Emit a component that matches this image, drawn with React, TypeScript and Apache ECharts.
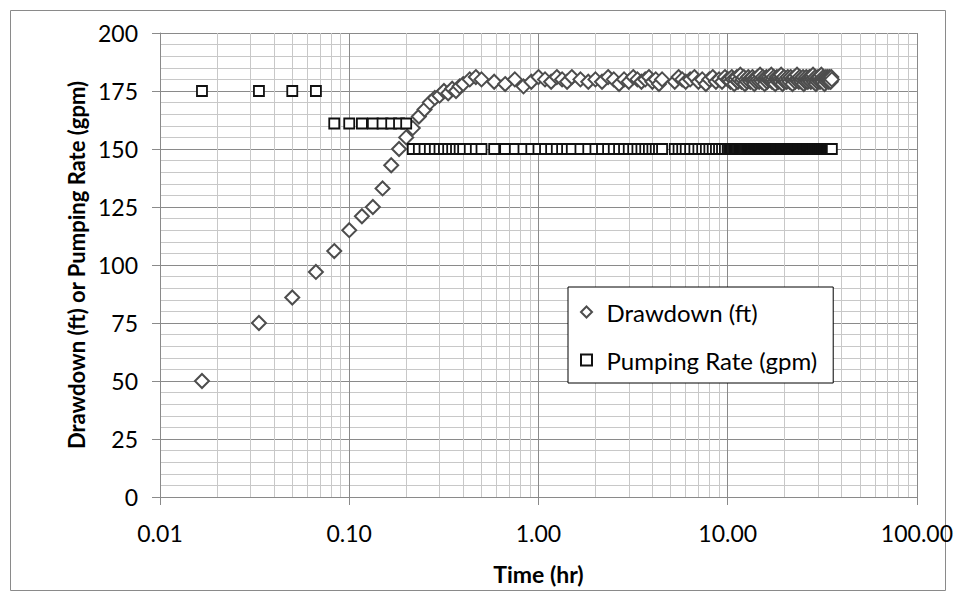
import { useEffect, useRef } from "react";
import * as echarts from "echarts";

// Elapsed time of each reading, in minutes (converted to hours for the x axis)
const timeMin = [
  1, 2, 3, 4, 5, 6, 7, 8, 9, 10, 11, 12, 13, 14, 15, 16, 17, 18, 19, 20, 21, 22, 23, 24,
  26, 28, 30,
  35, 40, 45, 50, 55, 60, 65, 70, 75, 80, 85, 90,
  100, 110, 120,
  130, 140, 150, 160, 170, 180, 190, 200, 210, 220, 230, 240, 250, 260, 270,
  315, 330, 345, 360, 380, 400, 420, 440, 460, 480, 500, 520,
  540, 560, 580, 600,
  610, 620, 630, 640, 650, 660, 670, 680, 690, 700,
  710, 720, 730, 740, 750, 760, 770, 780, 790, 800,
  810, 820, 830, 840, 850, 860, 870, 880, 890, 900,
  910, 920, 930, 940, 950, 960, 970, 980, 990, 1000,
  1010, 1020, 1030, 1040, 1050, 1060, 1070, 1080, 1090, 1100,
  1110, 1120, 1130, 1140, 1150, 1160, 1170, 1180, 1190, 1200,
  1215, 1230, 1245, 1260, 1275, 1290, 1305, 1320, 1335, 1350,
  1365, 1380, 1395, 1410, 1425, 1440, 1455, 1470, 1485, 1500,
  1515, 1530, 1545, 1560, 1575, 1590, 1605, 1620, 1635, 1650,
  1665, 1680, 1695, 1710, 1725, 1740, 1755, 1770, 1785, 1800,
  1815, 1830, 1845, 1860, 1875, 1890, 1905, 1920, 1935, 1950,
  1965, 1980, 1995, 2010, 2025, 2040, 2055, 2070, 2085, 2100,
  2115, 2130,
];

const drawdownFt = [
  50, 75, 86, 97, 106, 115, 121, 125, 133, 143, 150, 155, 159, 164, 167, 170, 172, 173, 175, 174, 176, 175, 177, 178,
  180, 181, 180,
  179, 178, 180, 177, 179, 181, 180, 179, 181, 180, 179, 181,
  180, 179, 180,
  179, 181, 180, 178, 180, 179, 181, 180, 179, 180, 181, 179, 180, 178, 180,
  179, 181, 180, 179, 180, 181, 179, 180, 178, 180, 181, 179,
  180, 179, 181, 180,
  180, 179, 181, 180, 178, 180, 181, 179, 180, 182,
  179, 180, 181, 178, 180, 179, 181, 180, 179, 180,
  181, 180, 178, 180, 179, 181, 180, 179, 182, 180,
  179, 181, 180, 178, 180, 181, 179, 180, 181, 180,
  180, 182, 179, 180, 181, 179, 178, 180, 181, 180,
  179, 181, 180, 179, 182, 180, 178, 180, 181, 179,
  180, 179, 181, 180, 179, 181, 180, 178, 180, 181,
  179, 180, 182, 180, 179, 181, 180, 179, 180, 181,
  178, 180, 179, 181, 180, 179, 180, 181, 180, 179,
  181, 180, 182, 179, 180, 181, 178, 180, 179, 181,
  180, 181, 179, 180, 182, 180, 179, 181, 180, 178,
  180, 181, 179, 180, 181, 180, 179, 181, 180, 179,
  181, 180,
];

const pumpingGpm = [
  175, 175, 175, 175, 161, 161, 161, 161, 161, 161, 161, 161, 150, 150, 150, 150, 150, 150, 150, 150, 150, 150, 150, 150,
  150, 150, 150,
  150, 150, 150, 150, 150, 150, 150, 150, 150, 150, 150, 150,
  150, 150, 150,
  150, 150, 150, 150, 150, 150, 150, 150, 150, 150, 150, 150, 150, 150, 150,
  150, 150, 150, 150, 150, 150, 150, 150, 150, 150, 150, 150,
  150, 150, 150, 150,
  150, 150, 150, 150, 150, 150, 150, 150, 150, 150,
  150, 150, 150, 150, 150, 150, 150, 150, 150, 150,
  150, 150, 150, 150, 150, 150, 150, 150, 150, 150,
  150, 150, 150, 150, 150, 150, 150, 150, 150, 150,
  150, 150, 150, 150, 150, 150, 150, 150, 150, 150,
  150, 150, 150, 150, 150, 150, 150, 150, 150, 150,
  150, 150, 150, 150, 150, 150, 150, 150, 150, 150,
  150, 150, 150, 150, 150, 150, 150, 150, 150, 150,
  150, 150, 150, 150, 150, 150, 150, 150, 150, 150,
  150, 150, 150, 150, 150, 150, 150, 150, 150, 150,
  150, 150, 150, 150, 150, 150, 150, 150, 150, 150,
  150, 150, 150, 150, 150, 150, 150, 150, 150, 150,
  150, 150,
];

// Minor (log) vertical gridline positions, hours
const xMinorGrid = [
  0.02, 0.03, 0.04, 0.05, 0.06, 0.07, 0.08, 0.09,
  0.2, 0.3, 0.4, 0.5, 0.6, 0.7, 0.8, 0.9,
  2, 3, 4, 5, 6, 7, 8, 9,
  20, 30, 40, 50, 60, 70, 80, 90,
];

const seriesNames = ["Drawdown (ft)", "Pumping Rate (gpm)"];
const xTitle = "Time (hr)";
const yTitle = "Drawdown (ft) or Pumping Rate (gpm)";

const FONT = "Lato";
const MAJOR = "#8a8a8a";
const MINOR = "#c8c8c8";

export default function App() {
  const ref = useRef<HTMLDivElement>(null);

  useEffect(() => {
    if (!ref.current) return;
    const chart = echarts.init(ref.current, undefined, { renderer: "svg" });
    const timeHr = timeMin.map((m) => m / 60);
    const ddData = timeHr.map((t, i) => [t, drawdownFt[i]]);
    const qData = timeHr.map((t, i) => [t, pumpingGpm[i]]);

    chart.setOption({
      animation: false,
      backgroundColor: "#ffffff",
      graphic: [
        {
          type: "rect",
          silent: true,
          shape: { x: 10.5, y: 10.5, width: 935, height: 580 },
          style: { fill: "none", stroke: MAJOR, lineWidth: 1 },
        },
      ],
      grid: { left: 160, top: 33, width: 757, height: 464, containLabel: false },
      legend: {
        orient: "vertical",
        left: 568,
        top: 287,
        padding: [13, 16, 11, 12],
        itemGap: 24,
        itemWidth: 30,
        itemHeight: 11,
        backgroundColor: "#ffffff",
        borderColor: "#000000",
        borderWidth: 1,
        textStyle: { fontFamily: FONT, fontSize: 24, color: "#000", lineHeight: 24 },
        data: [
          { name: seriesNames[0], icon: "path://M5 0L10 5L5 10L0 5Z" },
          { name: seriesNames[1], icon: "path://M0 0H10V10H0Z" },
        ],
      },
      xAxis: {
        type: "log",
        logBase: 10,
        min: 0.01,
        max: 100,
        name: xTitle,
        nameLocation: "middle",
        nameGap: 65,
        nameTextStyle: { fontFamily: FONT, fontSize: 23, fontWeight: "bold", color: "#000" },
        axisLine: { show: true, lineStyle: { color: MAJOR, width: 1 } },
        axisTick: { show: true, length: 8, inside: false, lineStyle: { color: MAJOR } },
        axisLabel: {
          fontFamily: FONT,
          fontSize: 23,
          color: "#000",
          margin: 24,
          formatter: (v: number) => Number(v).toFixed(2),
        },
        splitLine: { show: true, lineStyle: { color: MAJOR, width: 1 } },
      },
      yAxis: {
        type: "value",
        min: 0,
        max: 200,
        interval: 25,
        name: yTitle,
        nameLocation: "middle",
        nameGap: 71,
        nameTextStyle: { fontFamily: FONT, fontSize: 22, fontWeight: "bold", color: "#000" },
        axisLine: { show: true, lineStyle: { color: MAJOR, width: 1 } },
        axisTick: { show: true, length: 8, inside: false, lineStyle: { color: MAJOR } },
        axisLabel: { fontFamily: FONT, fontSize: 23, color: "#000", margin: 22 },
        splitLine: { show: true, lineStyle: { color: MAJOR, width: 1 } },
        minorTick: { show: false, splitNumber: 5 },
        minorSplitLine: { show: true, lineStyle: { color: MINOR, width: 1 } },
      },
      series: [
        {
          name: seriesNames[0],
          type: "scatter",
          z: 2,
          symbol: "diamond",
          symbolSize: 14,
          itemStyle: { color: "#ffffff", borderColor: "#4d4d4d", borderWidth: 2, opacity: 1 },
          data: ddData,
          markLine: {
            silent: true,
            z: 1,
            symbol: ["none", "none"],
            label: { show: false },
            emphasis: { disabled: true },
            lineStyle: { color: MINOR, width: 1, type: "solid" },
            data: xMinorGrid.map((v) => ({ xAxis: v })),
          },
        },
        {
          name: seriesNames[1],
          type: "scatter",
          z: 3,
          symbol: "rect",
          symbolSize: 10,
          itemStyle: { color: "#ffffff", borderColor: "#111111", borderWidth: 1.8, opacity: 1 },
          data: qData,
        },
      ],
    });
    return () => chart.dispose();
  }, []);

  return (
    <div
      ref={ref}
      style={{ position: "fixed", left: 0, top: 0, width: 956, height: 600, background: "#fff" }}
    />
  );
}
